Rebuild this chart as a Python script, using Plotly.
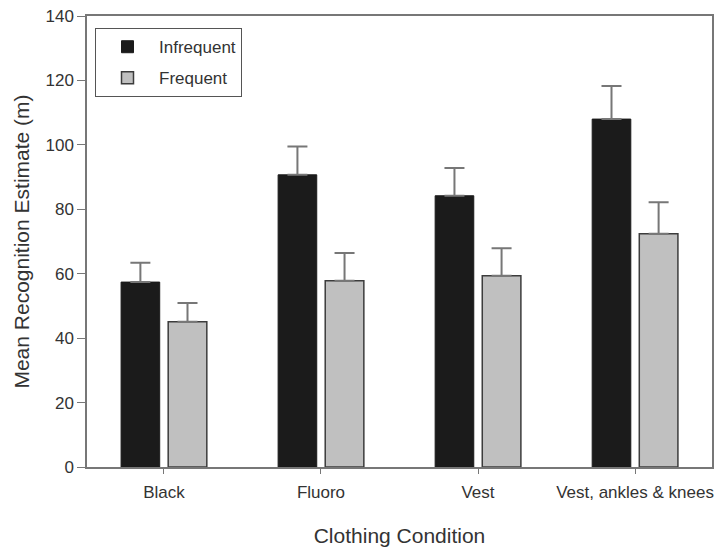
import plotly.graph_objects as go

categories = ["Black", "Fluoro", "Vest", "Vest, ankles & knees"]
infrequent = [57.4, 90.7, 84.2, 108.0]
infrequent_err = [6.0, 8.8, 8.6, 10.3]
frequent = [45.1, 57.8, 59.4, 72.4]
frequent_err = [5.8, 8.6, 8.5, 9.8]
y_ticks = [0, 20, 40, 60, 80, 100, 120, 140]

font_family = "Liberation Sans, Arial, Helvetica, sans-serif"
text_color = "#333333"

fig = go.Figure()
fig.add_trace(go.Bar(
    x=categories, y=infrequent, name="Infrequent", legendgroup="a",
    marker=dict(color="#1b1b1b", line=dict(color="#1b1b1b", width=1)),
    error_y=dict(type="data", array=infrequent_err, arrayminus=[0] * 4,
                 symmetric=False, color="#777777", thickness=2, width=10),
))
fig.add_trace(go.Bar(
    x=categories, y=frequent, name="Frequent", legendgroup="b",
    marker=dict(color="#c0c0c0", line=dict(color="#3c3c3c", width=1.5)),
    error_y=dict(type="data", array=frequent_err, arrayminus=[0] * 4,
                 symmetric=False, color="#777777", thickness=2, width=10),
))

fig.update_layout(
    width=717, height=547,
    margin=dict(l=87, r=5, t=16, b=80),
    paper_bgcolor="white", plot_bgcolor="white",
    barmode="group", bargap=0.4, bargroupgap=0.18,
    font=dict(family=font_family, size=17, color=text_color),
    showlegend=True,
    legend=dict(
        x=0.0128, y=0.973, xanchor="left", yanchor="top",
        bordercolor="#555555", borderwidth=1, bgcolor="white",
        font=dict(size=17, color=text_color),
        traceorder="grouped", tracegroupgap=6, itemwidth=53,
    ),
    xaxis=dict(
        type="category", range=[-0.49, 3.49], automargin=False,
        showline=True, linecolor="#777777", linewidth=1.5, mirror=True,
        ticks="outside", ticklen=5, tickcolor="#777777",
        ticklabelstandoff=4,
        showgrid=False, tickfont=dict(size=17, color=text_color),
        title=dict(text="Clothing Condition", font=dict(size=21, color=text_color), standoff=28),
    ),
    yaxis=dict(
        range=[0, 140], tickvals=y_ticks, automargin=False,
        showline=True, linecolor="#777777", linewidth=1.5, mirror=True,
        ticks="outside", ticklen=8, tickcolor="#777777",
        showgrid=False, zeroline=False, tickfont=dict(size=17, color=text_color),
        title=dict(text="Mean Recognition Estimate (m)", font=dict(size=21, color=text_color), standoff=10),
    ),
)

fig.write_html(
    "out.html",
    config={"displayModeBar": False},
    post_script="document.body.style.margin='0';document.body.style.overflow='hidden';",
)
